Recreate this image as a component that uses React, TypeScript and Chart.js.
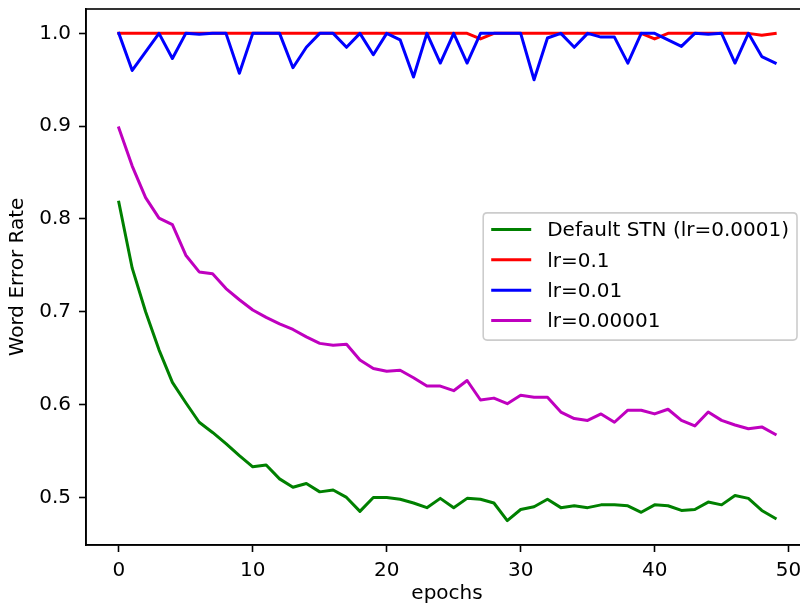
import React, { useEffect, useRef } from 'react';
import { Chart, registerables } from 'chart.js';

Chart.register(...registerables);

const FONT = '"DejaVu Sans", "Liberation Sans", sans-serif';

const epochs = [
  0, 1, 2, 3, 4, 5, 6, 7, 8, 9, 10, 11, 12, 13, 14, 15, 16, 17, 18, 19, 20, 21, 22, 23, 24,
  25, 26, 27, 28, 29, 30, 31, 32, 33, 34, 35, 36, 37, 38, 39, 40, 41, 42, 43, 44, 45, 46, 47, 48, 49,
];

const defaultStn = [
  0.818, 0.747, 0.7, 0.659, 0.624, 0.602, 0.581, 0.57, 0.558, 0.545,
  0.533, 0.535, 0.52, 0.511, 0.515, 0.506, 0.508, 0.5, 0.485, 0.5,
  0.5, 0.498, 0.494, 0.489, 0.499, 0.489, 0.499, 0.498, 0.494, 0.475,
  0.487, 0.49, 0.498, 0.489, 0.491, 0.489, 0.492, 0.492, 0.491, 0.484,
  0.492, 0.491, 0.486, 0.487, 0.495, 0.492, 0.502, 0.499, 0.486, 0.4775,
];

const lr01 = [
  1.0, 1.0, 1.0, 1.0, 1.0, 1.0, 1.0, 1.0, 1.0, 1.0,
  1.0, 1.0, 1.0, 1.0, 1.0, 1.0, 1.0, 1.0, 1.0, 1.0,
  1.0, 1.0, 1.0, 1.0, 1.0, 1.0, 1.0, 0.994, 1.0, 1.0,
  1.0, 1.0, 1.0, 1.0, 1.0, 1.0, 1.0, 1.0, 1.0, 1.0,
  0.994, 1.0, 1.0, 1.0, 1.0, 1.0, 1.0, 1.0, 0.998, 1.0,
];

const lr001 = [
  1.0, 0.96, 0.98, 1.0, 0.973, 1.0, 0.999, 1.0, 1.0, 0.957,
  1.0, 1.0, 1.0, 0.963, 0.985, 1.0, 1.0, 0.985, 1.0, 0.977,
  1.0, 0.993, 0.953, 1.0, 0.968, 1.0, 0.968, 1.0, 1.0, 1.0,
  1.0, 0.95, 0.995, 1.0, 0.985, 1.0, 0.996, 0.996, 0.968, 1.0,
  1.0, 0.993, 0.986, 1.0, 0.999, 1.0, 0.968, 1.0, 0.975, 0.968,
];

const lr000001 = [
  0.898, 0.857, 0.823, 0.801, 0.794, 0.761, 0.743, 0.741, 0.725, 0.713,
  0.702, 0.694, 0.687, 0.681, 0.673, 0.666, 0.664, 0.665, 0.648, 0.639,
  0.636, 0.637, 0.629, 0.62, 0.62, 0.615, 0.626, 0.605, 0.607, 0.601,
  0.61, 0.608, 0.608, 0.592, 0.585, 0.583, 0.59, 0.581, 0.594, 0.594,
  0.59, 0.595, 0.583, 0.577, 0.592, 0.583, 0.578, 0.574, 0.576, 0.568,
];

const seriesLabels = ['Default STN (lr=0.0001)', 'lr=0.1', 'lr=0.01', 'lr=0.00001'];
const seriesColors = ['#008000', '#ff0000', '#0000ff', '#bf00bf'];
const xTitle = 'epochs';
const yTitle = 'Word Error Rate';

const framePlugin = {
  id: 'mplFrame',
  afterDraw(chart: any) {
    const { ctx, chartArea: a } = chart;
    ctx.save();
    ctx.strokeStyle = '#000';
    ctx.lineWidth = 1.6;
    ctx.strokeRect(a.left, a.top, a.right - a.left, a.bottom - a.top);
    ctx.restore();
  },
};

const legendPlugin = {
  id: 'mplLegend',
  afterDraw(chart: any) {
    const { ctx, chartArea: a } = chart;
    const fs = 20;
    const ds = chart.data.datasets;
    ctx.save();
    ctx.font = `${fs}px ${FONT}`;
    const tw = Math.max(...ds.map((d: any) => ctx.measureText(d.label).width));
    const pad = 0.4 * fs;
    const hl = 2 * fs;
    const htp = 0.8 * fs;
    const ls = 0.5 * fs;
    const th = 20.3;
    const w = pad + hl + htp + tw + pad;
    const h = 2 * pad + ds.length * th + (ds.length - 1) * ls;
    const right = a.right - 11;
    const left = right - w;
    const top = (a.top + a.bottom) / 2 - h / 2 - 0.5;
    const r = 4;
    ctx.beginPath();
    ctx.moveTo(left + r, top);
    ctx.lineTo(left + w - r, top);
    ctx.quadraticCurveTo(left + w, top, left + w, top + r);
    ctx.lineTo(left + w, top + h - r);
    ctx.quadraticCurveTo(left + w, top + h, left + w - r, top + h);
    ctx.lineTo(left + r, top + h);
    ctx.quadraticCurveTo(left, top + h, left, top + h - r);
    ctx.lineTo(left, top + r);
    ctx.quadraticCurveTo(left, top, left + r, top);
    ctx.closePath();
    ctx.fillStyle = 'rgba(255,255,255,0.8)';
    ctx.fill();
    ctx.strokeStyle = '#cccccc';
    ctx.lineWidth = 1.6;
    ctx.stroke();
    ds.forEach((d: any, i: number) => {
      const cy = top + pad + i * (th + ls) + th / 2 - 1.5;
      ctx.beginPath();
      ctx.strokeStyle = d.borderColor;
      ctx.lineWidth = 3;
      ctx.lineCap = 'square';
      ctx.moveTo(left + pad + 1.5, cy);
      ctx.lineTo(left + pad + hl - 1.5, cy);
      ctx.stroke();
      ctx.fillStyle = '#000';
      ctx.textBaseline = 'middle';
      ctx.textAlign = 'left';
      ctx.fillText(d.label, left + pad + hl + htp, cy + 1.5);
    });
    ctx.restore();
  },
};

export default function App() {
  const ref = useRef<HTMLCanvasElement>(null);

  useEffect(() => {
    if (!ref.current) return;
    const values = [defaultStn, lr01, lr001, lr000001];
    const order = [4, 3, 2, 1];
    const tickFont = { family: FONT, size: 20 };
    const chart = new Chart(ref.current, {
      type: 'line',
      data: {
        labels: epochs,
        datasets: values.map((v, i) => ({
          label: seriesLabels[i],
          data: v,
          borderColor: seriesColors[i],
          backgroundColor: seriesColors[i],
          borderWidth: 3,
          borderJoinStyle: 'round',
          borderCapStyle: 'square',
          pointRadius: 0,
          pointHoverRadius: 0,
          tension: 0,
          fill: false,
          order: order[i],
        })),
      },
      options: {
        responsive: false,
        animation: false,
        layout: { padding: { left: 0, right: 22, top: 9, bottom: 0 } },
        plugins: {
          legend: { display: false },
          tooltip: { enabled: false },
        },
        scales: {
          x: {
            type: 'linear',
            min: -2.45,
            max: 51.45,
            ticks: {
              stepSize: 10,
              includeBounds: false,
              autoSkip: false,
              maxRotation: 0,
              color: '#000',
              font: tickFont,
              padding: 7,
              callback: (v: any) => String(v),
            },
            grid: {
              display: true,
              drawOnChartArea: false,
              drawTicks: true,
              tickLength: 7,
              tickWidth: 1.6,
              tickColor: '#000',
            },
            border: { display: true, color: '#000', width: 1.6 },
            title: {
              display: true,
              text: xTitle,
              color: '#000',
              font: { family: FONT, size: 20 },
              padding: { top: 1, bottom: 0 },
            },
            afterFit: (s: any) => {
              s.height = 61;
              s.paddingLeft = 0;
              s.paddingRight = 0;
            },
          },
          y: {
            type: 'linear',
            min: 0.44875,
            max: 1.02625,
            ticks: {
              stepSize: 0.1,
              includeBounds: false,
              autoSkip: false,
              color: '#000',
              font: tickFont,
              padding: 8,
              callback: (v: any) => Number(v).toFixed(1),
            },
            grid: {
              display: true,
              drawOnChartArea: false,
              drawTicks: true,
              tickLength: 7,
              tickWidth: 1.6,
              tickColor: '#000',
            },
            border: { display: true, color: '#000', width: 1.6 },
            title: {
              display: true,
              text: yTitle,
              color: '#000',
              font: { family: FONT, size: 20 },
              padding: { top: 6, bottom: 0 },
            },
            afterFit: (s: any) => {
              s.width = 86;
              s.paddingTop = 0;
              s.paddingBottom = 0;
            },
          },
        },
      } as any,
      plugins: [framePlugin, legendPlugin],
    });
    return () => chart.destroy();
  }, []);

  return (
    <div
      style={{
        position: 'fixed',
        left: 0,
        top: 0,
        width: 800,
        height: 606,
        overflow: 'hidden',
        background: '#fff',
      }}
    >
      <canvas ref={ref} width={830} height={606} style={{ display: 'block', width: 830, height: 606 }} />
    </div>
  );
}
